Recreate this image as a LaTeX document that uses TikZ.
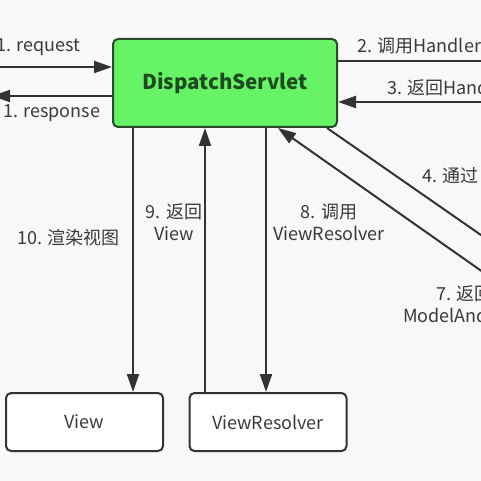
\documentclass[tikz,border=0pt]{standalone}
\usepackage{fontspec}
\setmainfont{Noto Sans CJK SC}
\usetikzlibrary{arrows.meta,calc}
\definecolor{bggray}{HTML}{F8F8F8}
\definecolor{linegray}{HTML}{333333}
\definecolor{textgray}{HTML}{3A3A3A}
\definecolor{servletgreen}{HTML}{66F466}
\definecolor{servletdark}{HTML}{1E4A20}
\definecolor{servletedge}{HTML}{2B4A2B}
\begin{document}
\begin{tikzpicture}[x=1pt,y=-1pt,
    box/.style={draw=linegray, line width=2pt, rounded corners=5pt, fill=white,
        minimum width=157pt, minimum height=58pt, inner sep=0pt,
        text=textgray, font=\fontsize{18}{22}\selectfont},
    mainbox/.style={draw=servletedge, line width=2pt, rounded corners=5pt, fill=servletgreen,
        minimum width=224pt, minimum height=88pt, inner sep=0pt,
        text=servletdark, font=\fontsize{20.5}{24}\selectfont\bfseries},
    lbl/.style={text=textgray, inner sep=0pt, font=\fontsize{18}{22}\selectfont},
    link/.style={draw=linegray, line width=2pt},
    arr/.style={link, -{Triangle[length=18pt,width=12pt]}}]
        \useasboundingbox (0,0) rectangle (481,481);
        \fill[bggray] (0,0) rectangle (481,481);
        \clip (0,0) rectangle (481,481);

        % boxes
        \node[mainbox] (servlet) at (225,83) {DispatchServlet};
        \node[box] (view) at (84.5,422) {View};
        \node[box] (resolver) at (268,422) {ViewResolver};

        % free ends and columns
        \coordinate (reqin) at (-5,67);
        \coordinate (respout) at (-8,96);
        \coordinate (mapout) at (495,61);
        \coordinate (chainin) at (495,102);
        \coordinate (c10) at (133,0);
        \coordinate (c9) at (205,0);
        \coordinate (c8) at (266,0);
        \coordinate (c4) at (327,0);
        \coordinate (c7) at (278,0);
        \coordinate (adapterout) at (527,267);
        \coordinate (modelin) at (527,303);

        % left side
        \draw[arr] (reqin) -- (reqin -| servlet.west);
        \draw[arr] (servlet.west |- respout) -- (respout);
        \node[lbl, anchor=base west] (lreq) at (-4,52) {1. request};
        \node[lbl, anchor=base west] (lresp) at (3,118) {1. response};

        % right side
        \draw[link] (servlet.east |- mapout) -- (mapout);
        \draw[arr] (chainin) -- (chainin -| servlet.east);
        \node[lbl, anchor=base west] (lmap) at (357,53) {2. 调用Handler};
        \node[lbl, anchor=base west] (lchain) at (387,95) {3. 返回Hand};

        % diagonals
        \draw[link] (servlet.south -| c4) -- (adapterout);
        \draw[arr] (modelin) -- (servlet.south -| c7);
        \node[lbl, anchor=base west] (ladapter) at (422,182) {4. 通过};
        \node[lbl, anchor=base west] (lmodel) at (436,300) {7. 返回};
        \node[lbl, anchor=base west] (lmodelb) at (403,322) {ModelAnd};

        % columns to the views
        \draw[arr] (servlet.south -| c10) -- (view.north -| c10);
        \draw[arr] (resolver.north -| c9) -- (servlet.south -| c9);
        \draw[arr] (servlet.south -| c8) -- (resolver.north -| c8);
        \node[lbl, anchor=base west] (lrender) at (17,244) {10. 渲染视图};
        \node[lbl, align=center, anchor=base] (lback) at (174,240) {9. 返回\\View};
        \node[lbl, align=center, anchor=base] (lcall) at (329,240) {8. 调用\\ViewResolver};

\end{tikzpicture}
\end{document}
